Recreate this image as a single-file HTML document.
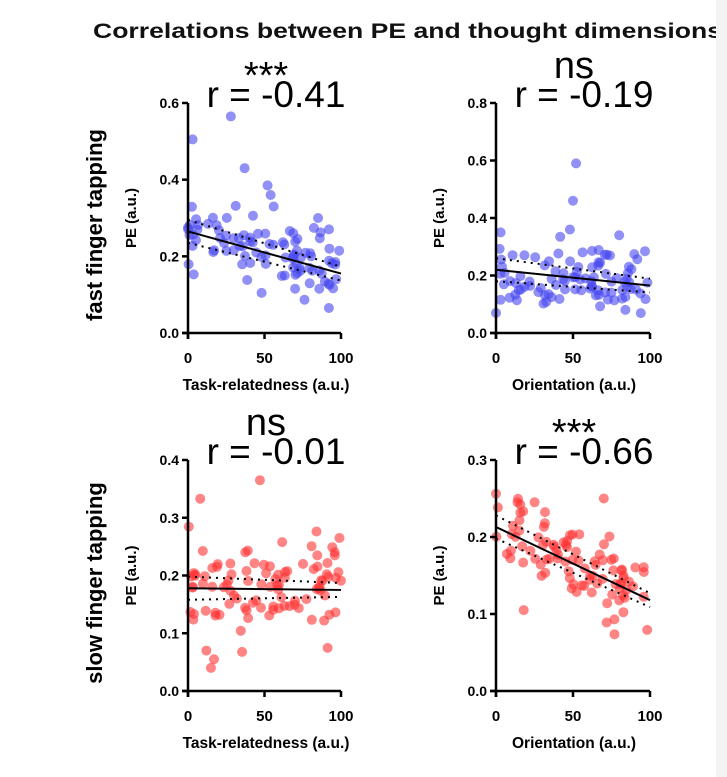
<!DOCTYPE html>
<html><head><meta charset="utf-8"><style>
html,body{margin:0;padding:0;background:#fff;width:727px;height:777px;overflow:hidden}
svg{display:block}
text{font-family:"Liberation Sans",sans-serif}
</style></head><body>
<svg id="s" width="727" height="777" xmlns="http://www.w3.org/2000/svg">
<rect x="0" y="0" width="727" height="777" fill="#fff"/>
<text x="93" y="38" font-size="21" font-weight="bold" fill="#111" textLength="629" lengthAdjust="spacingAndGlyphs">Correlations between PE and thought dimensions</text>
<rect x="716" y="0" width="11" height="777" fill="#f3f3f3"/>
<text transform="translate(102,225) rotate(-90)" text-anchor="middle" font-size="22" font-weight="bold">fast finger tapping</text>
<text transform="translate(102,583) rotate(-90)" text-anchor="middle" font-size="22" font-weight="bold">slow finger tapping</text>
<g id="g"></g>
</svg>
<script>
var seed=7;function rnd(){seed=(seed*16807)%2147483647;return (seed-1)/2147483646;}
function gauss(){return (rnd()+rnd()+rnd()+rnd()-2)*1.7;}
var G=document.getElementById('g');var h='';
var P=[
{x0:188,x1:341,yt:103,yb:333,max:0.6,ticks:[0,0.2,0.4,0.6],col:'rgba(70,70,240,0.6)',a:0.265,b:0.155,sd:0.04,star:'***',r:'r = -0.41',xl:'Task-relatedness (a.u.)',extra:[[3,0.505],[28,0.565],[37,0.43],[52,0.385],[54,0.36],[56,0.33],[85,0.3]]},
{x0:496,x1:650,yt:103,yb:333,max:0.8,ticks:[0,0.2,0.4,0.6,0.8],col:'rgba(70,70,240,0.6)',a:0.22,b:0.165,sd:0.05,star:'ns',r:'r = -0.19',xl:'Orientation (a.u.)',extra:[[52,0.59],[50,0.46],[48,0.36],[3,0.35],[80,0.34],[0,0.07]]},
{x0:188,x1:341,yt:460,yb:691,max:0.4,ticks:[0,0.1,0.2,0.3,0.4],col:'rgba(255,50,50,0.6)',a:0.178,b:0.175,sd:0.045,star:'ns',r:'r = -0.01',xl:'Task-relatedness (a.u.)',extra:[[47,0.365],[8,0.333],[99,0.265],[15,0.04],[17,0.055],[12,0.07]]},
{x0:496,x1:650,yt:460,yb:691,max:0.3,ticks:[0,0.1,0.2,0.3],col:'rgba(255,50,50,0.6)',a:0.213,b:0.118,sd:0.027,star:'***',r:'r = -0.66',xl:'Orientation (a.u.)',extra:[[70,0.25],[14,0.245],[18,0.105]]}
];
P.forEach(function(p){
 var X=function(v){return p.x0+(p.x1-p.x0)*v/100},Y=function(v){return p.yb-(p.yb-p.yt)*v/p.max};
 for(var i=0;i<95;i++){var x=rnd()*100;var y=p.a+(p.b-p.a)*x/100+gauss()*p.sd;if(y<0.03)y=0.03+rnd()*0.04;
  h+='<circle cx="'+X(x).toFixed(1)+'" cy="'+Y(y).toFixed(1)+'" r="5" fill="'+p.col+'"/>';}
 p.extra.forEach(function(e){h+='<circle cx="'+X(e[0])+'" cy="'+Y(e[1])+'" r="5" fill="'+p.col+'"/>';});
 h+='<line x1="'+X(0)+'" y1="'+Y(p.a)+'" x2="'+X(100)+'" y2="'+Y(p.b)+'" stroke="#000" stroke-width="2"/>';
 var dd=p.max*0.05;
 h+='<line x1="'+X(0)+'" y1="'+Y(p.a+dd)+'" x2="'+X(100)+'" y2="'+Y(p.b+dd*0.6)+'" stroke="#000" stroke-width="2" stroke-dasharray="2,5"/>';
 h+='<line x1="'+X(0)+'" y1="'+Y(p.a-dd)+'" x2="'+X(100)+'" y2="'+Y(p.b-dd*0.6)+'" stroke="#000" stroke-width="2" stroke-dasharray="2,5"/>';
 h+='<line x1="'+p.x0+'" y1="'+p.yt+'" x2="'+p.x0+'" y2="'+(p.yb+6)+'" stroke="#000" stroke-width="2.5"/>';
 h+='<line x1="'+(p.x0-6)+'" y1="'+p.yb+'" x2="'+p.x1+'" y2="'+p.yb+'" stroke="#000" stroke-width="2.5"/>';
 p.ticks.forEach(function(t){var y=Y(t);h+='<line x1="'+(p.x0-6)+'" y1="'+y+'" x2="'+p.x0+'" y2="'+y+'" stroke="#000" stroke-width="2.5"/>';
  h+='<text x="'+(p.x0-9)+'" y="'+(y+5)+'" text-anchor="end" font-size="14" font-weight="bold">'+t.toFixed(1)+'</text>';});
 [0,50,100].forEach(function(t){var x=X(t);h+='<line x1="'+x+'" y1="'+p.yb+'" x2="'+x+'" y2="'+(p.yb+6)+'" stroke="#000" stroke-width="2.5"/>';
  h+='<text x="'+x+'" y="'+(p.yb+30)+'" text-anchor="middle" font-size="15" font-weight="bold">'+t+'</text>';});
 h+='<text x="'+(p.x0+78)+'" y="'+(p.yb+57)+'" text-anchor="middle" font-size="15.5" font-weight="bold">'+p.xl+'</text>';
 h+='<text transform="translate('+(p.x0-52)+','+((p.yt+p.yb)/2)+') rotate(-90)" text-anchor="middle" font-size="15" font-weight="bold">PE (a.u.)</text>';
 var sy=p.star=='ns'?(p.yt-25):(p.yt-15);
 h+='<text x="'+(p.x0+78)+'" y="'+sy+'" text-anchor="middle" font-size="38">'+p.star+'</text>';
 h+='<text x="'+(p.x0+88)+'" y="'+(p.yt+4)+'" text-anchor="middle" font-size="37">'+p.r+'</text>';
});
G.innerHTML=h;
</script>
</body></html>
